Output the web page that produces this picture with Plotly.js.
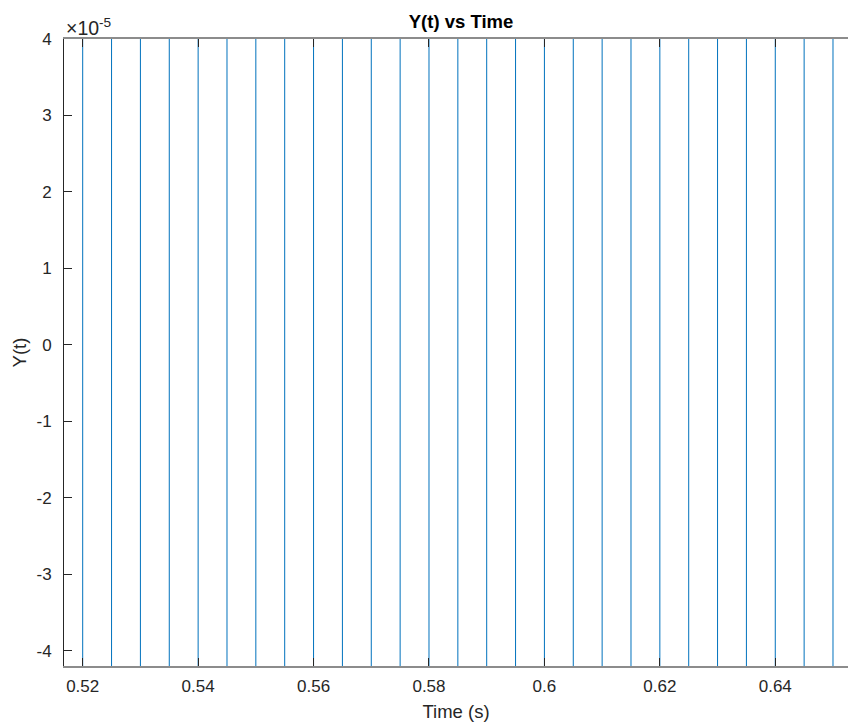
<!DOCTYPE html>
<html>
<head>
<meta charset="utf-8">
<script src="https://cdn.plot.ly/plotly-3.0.1.min.js"></script>
<style>html,body{margin:0;padding:0;background:#fff;overflow:hidden}</style>
</head>
<body>
<div id="chart" style="width:848px;height:723px"></div>
<script>
// Spike times (s): each one is a jump in Y(t) that runs off both ends of the view
const spikeTimes = [0.52, 0.525, 0.53, 0.535, 0.54, 0.545, 0.55, 0.555, 0.56, 0.565,
                    0.57, 0.575, 0.58, 0.585, 0.59, 0.595, 0.6, 0.605, 0.61, 0.615,
                    0.62, 0.625, 0.63, 0.635, 0.64, 0.645, 0.65];
const spikeHigh = [1e-3, 1e-3, 1e-3, 1e-3, 1e-3, 1e-3, 1e-3, 1e-3, 1e-3, 1e-3,
                   1e-3, 1e-3, 1e-3, 1e-3, 1e-3, 1e-3, 1e-3, 1e-3, 1e-3, 1e-3,
                   1e-3, 1e-3, 1e-3, 1e-3, 1e-3, 1e-3, 1e-3];
const spikeLow = [-1e-3, -1e-3, -1e-3, -1e-3, -1e-3, -1e-3, -1e-3, -1e-3, -1e-3, -1e-3,
                  -1e-3, -1e-3, -1e-3, -1e-3, -1e-3, -1e-3, -1e-3, -1e-3, -1e-3, -1e-3,
                  -1e-3, -1e-3, -1e-3, -1e-3, -1e-3, -1e-3, -1e-3];
const xTickVals = [0.52, 0.54, 0.56, 0.58, 0.6, 0.62, 0.64];
const xTickText = ['0.52', '0.54', '0.56', '0.58', '0.6', '0.62', '0.64'];
const yTickVals = [-4e-5, -3e-5, -2e-5, -1e-5, 0, 1e-5, 2e-5, 3e-5, 4e-5];
const yTickText = ['-4', '-3', '-2', '-1', '0', '1', '2', '3', '4'];

const xs = [], ys = [];
spikeTimes.forEach((t, i) => {
  xs.push(t, t, null);
  ys.push(spikeLow[i], spikeHigh[i], null);
});

const FONT = 'Liberation Sans, Arial, Helvetica, sans-serif';
const trace = {
  x: xs, y: ys, type: 'scatter', mode: 'lines',
  line: {color: '#0072BD', width: 1},
  connectgaps: false, hoverinfo: 'skip', showlegend: false
};

const layout = {
  width: 848, height: 723,
  margin: {l: 64, r: 0, t: 39, b: 57, pad: 0},
  paper_bgcolor: '#ffffff', plot_bgcolor: '#ffffff',
  font: {family: FONT, size: 17, color: '#262626'},
  title: {text: '<b>Y(t) vs Time</b>', font: {family: FONT, size: 18.5, color: '#000000'},
          xref: 'container', x: 461/848, xanchor: 'center', yref: 'container', y: 1 - 22/723, yanchor: 'middle'},
  xaxis: {
    range: [0.51676, 0.6526], tickvals: xTickVals, ticktext: xTickText,
    ticks: 'inside', ticklen: 8, tickwidth: 1, tickcolor: '#262626',
    showline: true, linecolor: '#8c8c8c', linewidth: 2, mirror: 'ticks',
    showgrid: false, zeroline: false, ticklabelstandoff: 4,
    tickfont: {family: FONT, size: 17, color: '#262626'},
    title: {text: 'Time (s)', font: {family: FONT, size: 18.5, color: '#262626'}, standoff: 10}
  },
  yaxis: {
    range: [-4.2e-5, 4e-5], tickvals: yTickVals, ticktext: yTickText,
    ticks: 'inside', ticklen: 8, tickwidth: 1, tickcolor: '#262626',
    showline: true, linecolor: '#262626', linewidth: 1, mirror: false,
    showgrid: false, zeroline: false, ticklabelstandoff: 8,
    tickfont: {family: FONT, size: 17, color: '#262626'},
    title: {text: 'Y(t)', font: {family: FONT, size: 18.5, color: '#262626'}, standoff: 4}
  },
  annotations: [{
    text: '×10<sup>-5</sup>', xref: 'paper', yref: 'paper', x: 0, y: 1,
    xanchor: 'left', yanchor: 'bottom', xshift: 0, yshift: -2, showarrow: false,
    font: {family: FONT, size: 19.5, color: '#262626'}
  }]
};

Plotly.newPlot('chart', [trace], layout, {displayModeBar: false, staticPlot: true});
</script>
</body>
</html>
